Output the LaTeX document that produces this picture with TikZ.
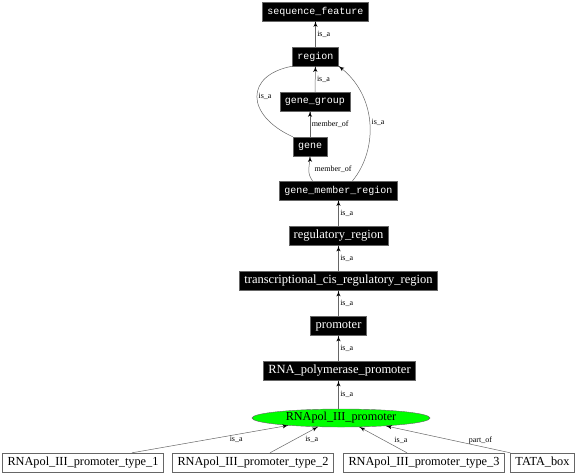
\documentclass[tikz,border=0pt]{standalone}
\usepackage{fontspec}
\setmainfont{Liberation Serif}
\setmonofont{Liberation Mono}
\usepackage{tikz}
\usetikzlibrary{arrows}
\usetikzlibrary{decorations.markings}
\usetikzlibrary{shapes.geometric}
\definecolor{mgray}{rgb}{0.4, 0.4, 0.4}
\definecolor{mgreen}{rgb}{0, 1, 0}
\tikzset{rel/.style = {color=mgray, line width=0.5pt,
                       decoration={markings,
                                   mark=at position 1 with {\arrow[scale=1.3, black]{latex'}}},
                       postaction={decorate}}}
\tikzset{term/.style = {draw=mgray, fill=black, text=white, minimum height=19pt,
                        inner xsep=5pt, inner ysep=0pt}}
\tikzset{mono/.style = {term, font=\fontsize{10}{12}\ttfamily}}
\tikzset{serif/.style = {term, font=\fontsize{12.5}{14}\selectfont}}
\tikzset{leaf/.style = {draw=mgray, fill=white, minimum height=19pt, inner xsep=5pt,
                        inner ysep=0pt, font=\fontsize{12.3}{14}\selectfont}}
\tikzset{focus/.style = {ellipse, draw=mgray, fill=mgreen, minimum width=178pt,
                         minimum height=18pt, inner sep=0pt, font=\fontsize{12.2}{14}\selectfont}}
\tikzset{lbl/.style = {text=black, inner sep=1.5pt, font=\fontsize{8}{9}\selectfont}}

\begin{document}
\begin{tikzpicture}[x=1pt, y=-1pt]
    \useasboundingbox (0, 0) rectangle (576, 475);

    \node [mono] (seqfeature) at (315.5, 11.5) {sequence\_feature};
    \node [mono] (region) at (315.5, 56.5) {region};
    \node [mono] (genegroup) at (315, 101.5) {gene\_group};
    \node [mono] (gene) at (310, 146.5) {gene};
    \node [mono] (gmr) at (338.5, 190.5) {gene\_member\_region};
    \node [serif] (regreg) at (338.5, 236) {regulatory\_region};
    \node [serif] (tcrr) at (338.5, 281) {transcriptional\_cis\_regulatory\_region};
    \node [serif] (promoter) at (338.5, 326) {promoter};
    \node [serif] (rnapolprom) at (339.5, 371) {RNA\_polymerase\_promoter};
    \node [focus] (pol3prom) at (341, 418) {RNApol\_III\_promoter};
    \node [leaf] (pol3t1) at (83, 462.5) {RNApol\_III\_promoter\_type\_1};
    \node [leaf] (pol3t2) at (253, 462.5) {RNApol\_III\_promoter\_type\_2};
    \node [leaf] (pol3t3) at (424, 462.5) {RNApol\_III\_promoter\_type\_3};
    \node [leaf] (tatabox) at (542.5, 462.5) {TATA\_box};

    \draw [rel] (region) -- (seqfeature) node [lbl, midway, right] {is\_a};
    \draw [rel] (genegroup) -- (region) node [lbl, midway, right] {is\_a};
    \draw [rel] (gene) -- (gene |- genegroup.south) node [lbl, midway, right] {member\_of};
    \draw [rel] (gene.north west) .. controls (245, 115) and (245, 75) .. (region.south west)
        node [lbl, midway, right] {is\_a};
    \draw [rel] ([xshift=-26pt]gmr.north) .. controls (306, 172) and (310, 166) .. (gene.south)
        node [lbl, midway, right, xshift=4pt] {member\_of};
    \draw [rel] ([xshift=14pt]gmr.north) .. controls (378, 150) and (378, 95) .. (region.south east)
        node [lbl, midway, right] {is\_a};
    \draw [rel] (regreg) -- (regreg |- gmr.south) node [lbl, midway, right] {is\_a};
    \draw [rel] (tcrr) -- (regreg) node [lbl, midway, right] {is\_a};
    \draw [rel] (promoter) -- (tcrr) node [lbl, midway, right] {is\_a};
    \draw [rel] (promoter |- rnapolprom.north) -- (promoter) node [lbl, midway, right] {is\_a};
    \draw [rel] (promoter |- pol3prom.north) -- (promoter |- rnapolprom.south)
        node [lbl, midway, right] {is\_a};

    \draw [rel] ([xshift=49pt]pol3t1.north) -- (pol3prom.188) node [lbl, pos=0.667, below] {is\_a};
    \draw [rel] ([xshift=17pt]pol3t2.north) -- (pol3prom.201) node [lbl, pos=0.7, below right] {is\_a};
    \draw [rel] ([xshift=-17pt]pol3t3.north) -- (pol3prom.-26) node [lbl, pos=0.3, above right] {is\_a};
    \draw [rel] (tatabox.north west) -- (pol3prom.-10) node [lbl, pos=0.24, above] {part\_of};
\end{tikzpicture}
\end{document}
